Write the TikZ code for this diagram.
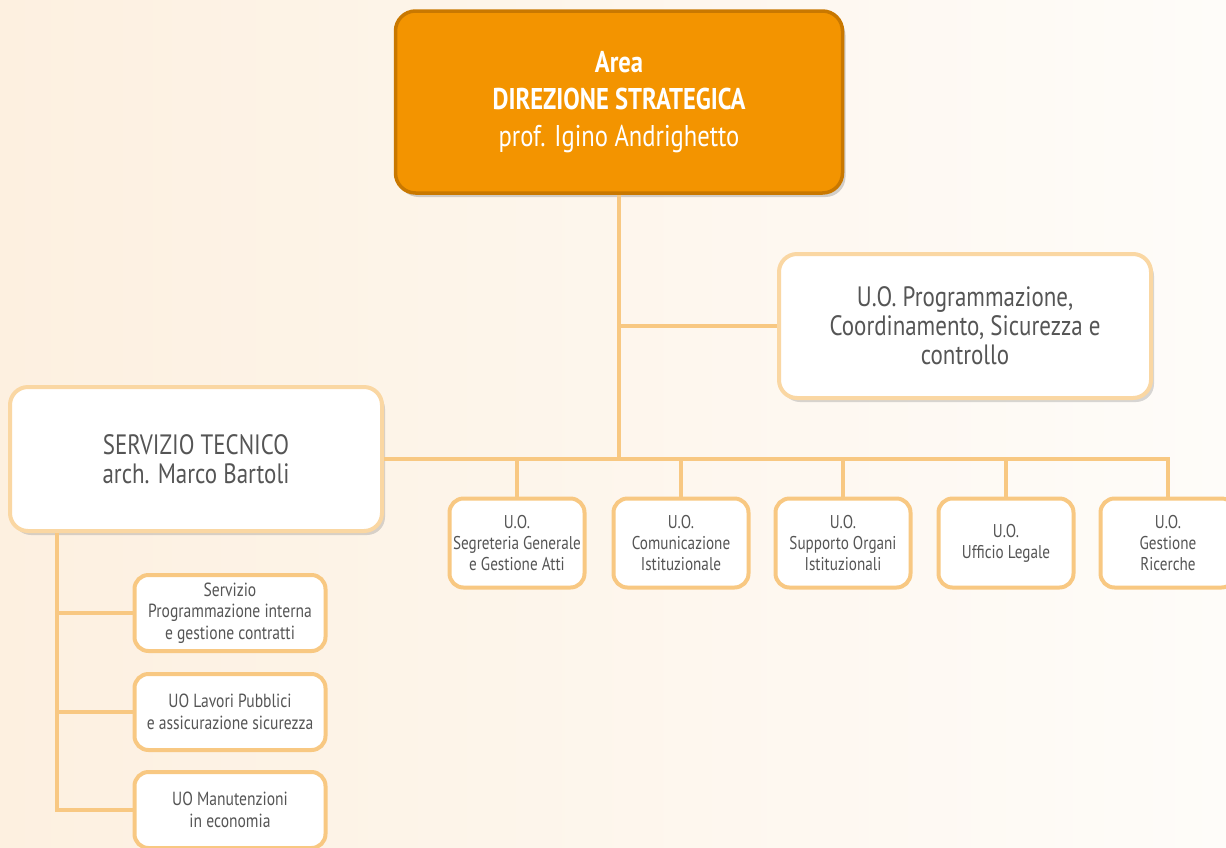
\documentclass[tikz,border=0pt]{standalone}
\usepackage{fontspec}
\setmainfont{PT Sans}[FakeStretch=0.82]
\usetikzlibrary{shadows}

\definecolor{bgleft}{HTML}{FDF0E0}
\definecolor{bgright}{HTML}{FEFCF9}
\definecolor{areaorange}{HTML}{F39400}
\definecolor{areadark}{HTML}{C97800}
\definecolor{linkorange}{HTML}{F8C882}
\definecolor{glow}{HTML}{FAD7A3}
\definecolor{textgray}{HTML}{555555}

\begin{document}
\begin{tikzpicture}[x=1pt,y=-1pt]
\tikzset{areabox/.style={rounded corners=20pt,fill=areaorange,draw=areadark,line width=3.5pt,
    drop shadow={shadow xshift=3pt,shadow yshift=-4pt,opacity=.35},
    text=white,align=center,font=\fontsize{30}{37}\selectfont,
    minimum width=447pt,minimum height=182pt},
  bigbox/.style={rounded corners=18pt,fill=white,draw=glow,line width=4pt,
    drop shadow={shadow xshift=3pt,shadow yshift=-4pt,opacity=.3},
    text=textgray,align=center,font=\fontsize{28}{29}\selectfont,
    minimum width=372pt,minimum height=144pt},
  uobox/.style={rounded corners=14pt,fill=white,draw=linkorange,line width=4pt,
    text=textgray,align=center,font=\fontsize{18.5}{21}\selectfont,
    minimum width=135pt,minimum height=89pt,inner sep=1pt},
  svbox/.style={uobox,font=\fontsize{19}{21.5}\selectfont,minimum width=191pt,minimum height=76pt},
  conn/.style={draw=linkorange,line width=4pt}}

\useasboundingbox (0,0) rectangle (1226,847);
\shade[left color=bgleft,right color=bgright] (0,0) rectangle (1226,847);

% top and second level
\node[areabox] (area) at (619,102) {\textbf{Area}\\\textbf{DIREZIONE STRATEGICA}\\prof. Igino Andrighetto};
\node[bigbox] (prog) at (965,326) {U.O. Programmazione,\\Coordinamento, Sicurezza e\\controllo};
\node[bigbox] (servizio) at (196,459) {SERVIZIO TECNICO\\arch. Marco Bartoli};

% unita operative
\node[uobox] (uo1) at (517,543) {U.O.\\Segreteria Generale\\e Gestione Atti};
\node[uobox] (uo2) at (681,543) {U.O.\\Comunicazione\\Istituzionale};
\node[uobox] (uo3) at (843,543) {U.O.\\Supporto Organi\\Istituzionali};
\node[uobox] (uo4) at (1006,543) {U.O.\\Ufficio Legale};
\node[uobox] (uo5) at (1168,543) {U.O.\\Gestione\\Ricerche};

% servizio tecnico
\node[svbox] (sv1) at (230,613) {Servizio\\Programmazione interna\\e gestione contratti};
\node[svbox] (sv2) at (230,712) {UO Lavori Pubblici\\e assicurazione sicurezza};
\node[svbox] (sv3) at (230,810) {UO Manutenzioni\\in economia};

% connectors
\coordinate (stem) at (57,0);
\draw[conn] (area.south) -- (area.south |- servizio.east);
\draw[conn] (area.south |- prog.west) -- (prog.west);
\draw[conn] (servizio.east) -| (uo5.north);
\foreach \n in {1,...,4}
  \draw[conn] (uo\n.north) -- (uo\n.north |- servizio.east);
\draw[conn] (stem |- servizio.south) |- (sv3.west);
\foreach \n in {1,2}
  \draw[conn] (stem |- sv\n.west) -- (sv\n.west);
\end{tikzpicture}
\end{document}
